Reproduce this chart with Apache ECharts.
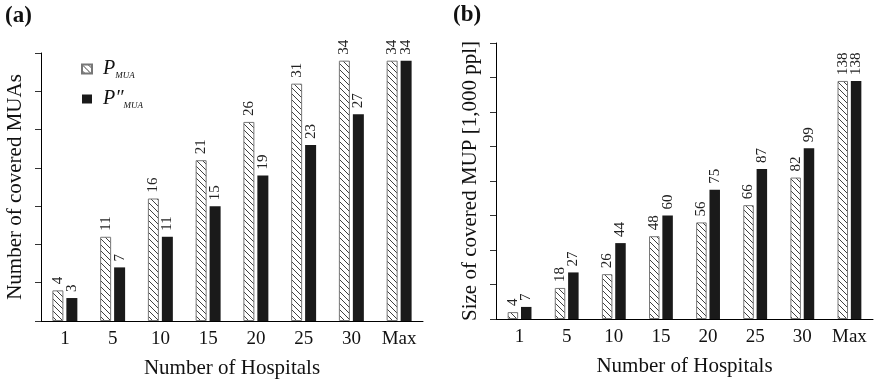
<!DOCTYPE html>
<html>
<head>
<meta charset="utf-8">
<script src="https://cdn.jsdelivr.net/npm/echarts@6/dist/echarts.min.js"></script>
<style>
html,body{margin:0;padding:0;background:#fff;}
#chart{width:874px;height:384px;}
</style>
</head>
<body>
<div id="chart"></div>
<script>
// ---- data ----
const categories = ['1', '5', '10', '15', '20', '25', '30', 'Max'];
const seriesNames = ['P_MUA', 'P2_MUA'];
const muaP = [4, 11, 16, 21, 26, 31, 34, 34];
const muaP2 = [3, 7, 11, 15, 19, 23, 27, 34];
const mupP = [4, 18, 26, 48, 56, 66, 82, 138];
const mupP2 = [7, 27, 44, 60, 75, 87, 99, 138];
const panelLabels = ['(a)', '(b)'];
const xTitle = 'Number of Hospitals';
const yTitles = ['Number of covered MUAs', 'Size of covered MUP [1,000 ppl]'];

// ---- styles ----
const SERIF = '"Liberation Serif", "DejaVu Serif", serif';
function hatch() {
  const s = 6;
  const c = document.createElement('canvas');
  c.width = s; c.height = s;
  const g = c.getContext('2d');
  g.fillStyle = '#ffffff';
  g.fillRect(0, 0, s, s);
  g.strokeStyle = '#2a2a2a';
  g.lineWidth = 0.9;
  g.beginPath();
  g.moveTo(0, 0); g.lineTo(s, s);
  g.moveTo(s - 1, -1); g.lineTo(s + 1, 1);
  g.moveTo(-1, s - 1); g.lineTo(1, s + 1);
  g.stroke();
  return c;
}
const hatchPattern = { image: hatch(), repeat: 'repeat' };
const hatchStyle = { color: hatchPattern, borderColor: '#777', borderWidth: 1 };
const solidStyle = { color: '#1a1a1a' };

const labelCfg = {
  show: true, position: 'top', rotate: 90, align: 'left', verticalAlign: 'middle',
  distance: 6, fontFamily: SERIF, fontSize: 15, color: '#222'
};

function xAxisCfg(gi) {
  return {
    type: 'category', gridIndex: gi, data: categories,
    axisLine: { show: true, lineStyle: { color: '#000', width: 1 } },
    axisTick: { show: false },
    axisLabel: { fontFamily: SERIF, fontSize: 19, color: '#111', margin: 9 },
    name: xTitle, nameLocation: 'middle', nameGap: 37,
    nameTextStyle: { fontFamily: SERIF, fontSize: 21, color: '#111' }
  };
}
function yAxisCfg(gi, max, interval, name) {
  return {
    type: 'value', gridIndex: gi, min: 0, max: max, interval: interval,
    axisLine: { show: true, lineStyle: { color: '#000', width: 1 } },
    axisTick: { show: true, length: 6, lineStyle: { color: '#333' } },
    axisLabel: { show: false },
    splitLine: { show: false },
    name: name, nameLocation: 'middle', nameGap: 15, nameRotate: 90,
    nameTextStyle: { fontFamily: SERIF, fontSize: 21, color: '#111' }
  };
}
function barSeries(name, data, xi, style, bw) {
  return {
    name: name, type: 'bar', xAxisIndex: xi, yAxisIndex: xi, data: data,
    barWidth: bw, barGap: '27%', itemStyle: style, label: labelCfg,
    emphasis: { disabled: true }, animation: false
  };
}

const chart = echarts.init(document.getElementById('chart'));
chart.setOption({
  animation: false,
  backgroundColor: '#fff',
  grid: [
    { left: 41, top: 53, width: 382, height: 268 },
    { left: 496, top: 43, width: 377, height: 276 }
  ],
  xAxis: [xAxisCfg(0), xAxisCfg(1)],
  yAxis: [yAxisCfg(0, 35, 5, yTitles[0]), yAxisCfg(1, 160, 20, yTitles[1])],
  legend: {
    data: seriesNames, orient: 'vertical', left: 76, top: 54,
    itemWidth: 10, itemHeight: 9, itemGap: 9, icon: 'rect',
    selectedMode: false,
    formatter: function (n) {
      return n === seriesNames[0] ? '{p|P}{s|MUA}' : '{p|P″}{s|MUA}';
    },
    textStyle: {
      padding: [0, 0, 0, 6],
      rich: {
        p: { fontFamily: SERIF, fontStyle: 'italic', fontSize: 20, color: '#111', lineHeight: 22, verticalAlign: 'middle' },
        s: { fontFamily: SERIF, fontStyle: 'italic', fontSize: 9, color: '#111', lineHeight: 9, verticalAlign: 'bottom' }
      }
    }
  },
  graphic: [
    { type: 'text', left: 5, top: 5, style: { text: panelLabels[0], font: 'bold 23px ' + SERIF, fill: '#111' } },
    { type: 'text', left: 453, top: 4, style: { text: panelLabels[1], font: 'bold 23px ' + SERIF, fill: '#111' } }
  ],
  series: [
    barSeries(seriesNames[0], muaP, 0, hatchStyle, 11),
    barSeries(seriesNames[1], muaP2, 0, solidStyle, 11),
    barSeries(seriesNames[0], mupP, 1, hatchStyle, 10.5),
    barSeries(seriesNames[1], mupP2, 1, solidStyle, 10.5)
  ]
});
</script>
</body>
</html>
